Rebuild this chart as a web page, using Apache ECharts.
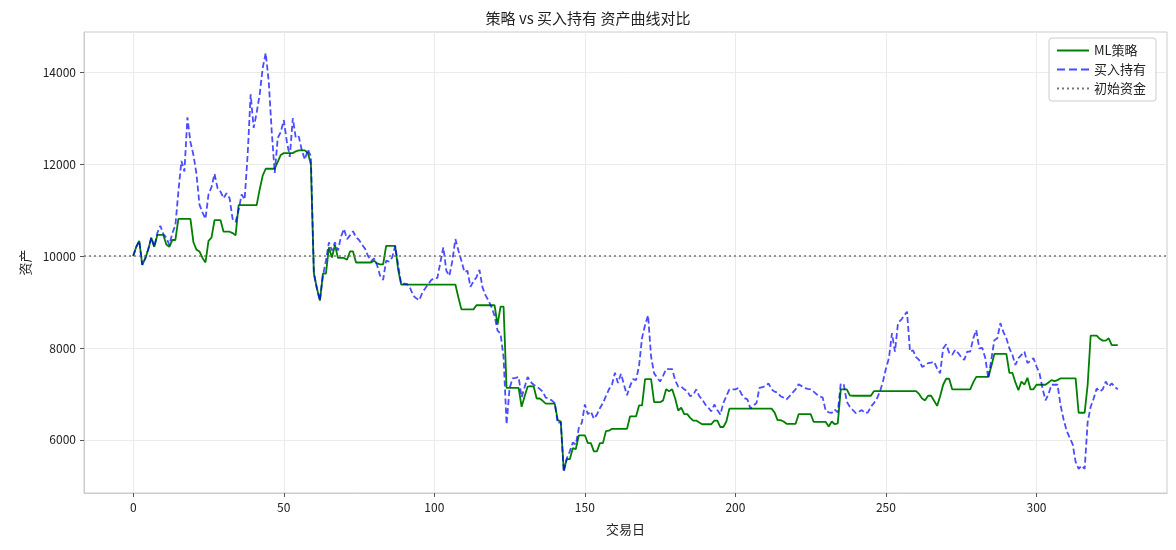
<!DOCTYPE html>
<html lang="zh" style="height: 100%">
<head>
  <meta charset="utf-8">
</head>
<body style="height: 100%; margin: 0; background: #fff">
  <div id="container" style="width: 1176px; height: 550px"></div>
  <script type="text/javascript" src="https://fastly.jsdelivr.net/npm/echarts@6/dist/echarts.min.js"></script>
  <script type="text/javascript">
var xTicks = [0, 50, 100, 150, 200, 250, 300];
var yTicks = [6000, 8000, 10000, 12000, 14000];
var initialCapital = 10000;

// ML策略
var strategy = [
  10000,10200,10330,9810,9950,10150,10400,10200,10460,10460,
  10460,10250,10200,10350,10350,10810,10810,10810,10810,10810,
  10300,10140,10100,9960,9860,10330,10400,10780,10780,10780,
  10530,10530,10530,10500,10450,11110,11110,11110,11110,11110,
  11110,11110,11450,11750,11900,11900,11900,11900,12050,12200,
  12240,12240,12240,12240,12280,12300,12300,12300,12250,12000,
  9620,9300,9030,9620,9620,10190,9970,10240,9960,9960,
  9960,9920,10100,10100,9860,9860,9860,9860,9860,9860,
  9900,9840,9820,9820,10220,10220,10220,10220,9700,9380,
  9380,9380,9380,9380,9380,9380,9380,9380,9380,9380,
  9380,9380,9380,9380,9380,9380,9380,9380,9100,8840,
  8840,8840,8840,8840,8930,8930,8930,8930,8930,8930,
  8930,8510,8900,8900,7130,7130,7130,7130,7130,6720,
  6950,7160,7170,7160,6900,6900,6850,6790,6790,6790,
  6790,6430,6400,5340,5580,5580,5820,5800,6100,6100,
  6100,5930,5930,5750,5750,5930,5930,6190,6200,6240,
  6240,6240,6240,6240,6240,6510,6510,6510,6750,6750,
  7320,7320,7320,6820,6820,6820,6860,7100,7060,7100,
  6900,6640,6700,6560,6560,6480,6420,6420,6380,6340,
  6340,6340,6340,6420,6420,6280,6280,6400,6680,6680,
  6680,6680,6680,6680,6680,6680,6680,6680,6680,6680,
  6680,6680,6680,6600,6430,6430,6400,6350,6350,6350,
  6350,6560,6560,6560,6560,6560,6390,6390,6390,6390,
  6390,6290,6400,6340,6360,7100,7100,7100,6970,6960,
  6960,6960,6960,6960,6960,6960,7060,7060,7060,7060,
  7060,7060,7060,7060,7060,7060,7060,7060,7060,7060,
  7060,7000,6900,6860,6960,6960,6850,6740,6950,7200,
  7330,7330,7100,7100,7100,7100,7100,7100,7100,7250,
  7370,7370,7370,7370,7370,7600,7870,7870,7870,7870,
  7870,7460,7460,7250,7080,7270,7200,7350,7100,7100,
  7200,7200,7200,7200,7250,7300,7280,7300,7340,7340,
  7340,7340,7340,7340,6590,6590,6590,7200,8270,8270,
  8270,8200,8160,8160,8210,8060,8060,8060
];

// 买入持有
var buyHold = [
  10000,10200,10330,9810,9950,10150,10400,10200,10500,10660,
  10480,10400,10240,10500,10670,11400,12070,11840,13020,12480,
  12200,11790,11120,10950,10810,11340,11500,11790,11480,11400,
  11260,11370,11260,10810,10740,11000,11340,11230,12200,13520,
  12790,13120,13520,14090,14420,13800,12710,11810,12570,12700,
  12960,12500,12160,13000,12570,12600,12300,12100,12320,12170,
  9620,9300,9030,9570,9900,10300,10120,10300,10120,10420,
  10590,10370,10450,10540,10410,10350,10250,10160,10000,9890,
  9950,9800,9570,9480,9900,9880,9970,10220,9800,9390,
  9400,9390,9300,9140,9080,9040,9200,9300,9390,9480,
  9520,9520,9860,10190,9680,9570,9900,10370,10120,9900,
  9650,9680,9330,9450,9540,9700,9320,9150,9030,8890,
  8700,8380,8310,7800,6340,7120,7340,7350,7370,6930,
  7150,7370,7260,7200,7160,7110,7050,6920,6900,6860,
  6800,6360,6390,5300,5600,5750,5940,5900,6260,6370,
  6770,6560,6620,6460,6550,6690,6800,6950,7100,7200,
  7460,7240,7440,7200,6970,7170,7320,7300,7610,8220,
  8500,8710,7810,7450,7350,7270,7400,7540,7540,7540,
  7300,7160,7160,7100,7060,6950,6980,7100,6950,6880,
  6770,6700,6620,6770,6650,6550,6800,6950,7100,7100,
  7100,7130,7000,6910,6880,6680,6750,6800,7130,7150,
  7170,7230,7100,7050,7030,6950,6920,6880,6950,7030,
  7100,7210,7170,7130,7110,7100,7050,6990,6950,6920,
  6630,6600,6590,6660,6600,7230,7200,6830,6720,6650,
  6580,6610,6650,6580,6600,6720,6800,6900,7050,7270,
  7550,7780,8320,7920,8540,8610,8700,8790,7920,7950,
  7800,7740,7590,7620,7670,7680,7700,7550,7450,7990,
  8080,7900,7850,7960,7890,7800,7740,7920,7920,8210,
  8390,7990,8000,7780,7340,7750,8170,8210,8540,8350,
  8210,7990,7850,7630,7780,7850,7920,7670,7720,7780,
  7600,7450,7120,6860,7000,7200,7200,7200,6750,6450,
  6200,6050,5910,5520,5370,5440,5370,6390,6720,6900,
  7120,7050,7100,7270,7160,7230,7150,7100
];

var dom = document.getElementById('container');
var myChart = echarts.init(dom, null, { renderer: 'canvas' });
var font = '"Noto Sans CJK SC", "DejaVu Sans", sans-serif';

function pairs(arr) {
  return arr.map(function (v, i) { return [i, v]; });
}

var option = {
  animation: false,
  textStyle: { fontFamily: font },
  title: {
    text: '策略 vs 买入持有 资产曲线对比',
    left: 'center',
    top: 6,
    textStyle: { fontSize: 15, fontWeight: 'normal', color: '#222', fontFamily: font }
  },
  legend: {
    right: 20,
    top: 38,
    orient: 'vertical',
    itemGap: 6,
    itemWidth: 32,
    itemHeight: 10,
    padding: [6, 10, 6, 8],
    borderColor: '#ccc',
    borderWidth: 1,
    borderRadius: 3,
    backgroundColor: 'rgba(255,255,255,0.8)',
    textStyle: { fontSize: 13, color: '#222', fontFamily: font },
    data: [
      { name: 'ML策略', icon: 'path://M0,4L32,4L32,6L0,6Z' },
      { name: '买入持有', icon: 'path://M0,4L8,4L8,6L0,6ZM12,4L20,4L20,6L12,6ZM24,4L32,4L32,6L24,6Z' },
      { name: '初始资金', icon: 'path://M0,4L2,4L2,6L0,6ZM5,4L7,4L7,6L5,6ZM10,4L12,4L12,6L10,6ZM15,4L17,4L17,6L15,6ZM20,4L22,4L22,6L20,6ZM25,4L27,4L27,6L25,6ZM30,4L32,4L32,6L30,6Z' }
    ]
  },
  grid: { left: 84, right: 9, top: 32, bottom: 57, show: true, borderColor: '#ccc', borderWidth: 1 },
  xAxis: {
    type: 'value',
    min: -16.35,
    max: 343.35,
    name: '交易日',
    nameLocation: 'middle',
    nameGap: 30,
    nameTextStyle: { fontSize: 13, color: '#222' },
    axisLine: { onZero: false, lineStyle: { color: '#ccc' } },
    axisTick: { customValues: xTicks, length: 4, lineStyle: { color: '#555' } },
    axisLabel: { customValues: xTicks, fontSize: 12, color: '#222' },
    splitLine: { show: true, lineStyle: { color: '#ebebeb' } }
  },
  yAxis: {
    type: 'value',
    min: 4844,
    max: 14876,
    name: '资产',
    nameLocation: 'middle',
    nameGap: 52,
    nameTextStyle: { fontSize: 13, color: '#222' },
    axisLine: { show: true, onZero: false, lineStyle: { color: '#ccc' } },
    axisTick: { show: true, customValues: yTicks, length: 4, lineStyle: { color: '#555' } },
    axisLabel: { customValues: yTicks, fontSize: 12, color: '#222', formatter: function (v) { return String(v); } },
    splitLine: { show: true, lineStyle: { color: '#ebebeb' } }
  },
  series: [
    {
      name: 'ML策略',
      type: 'line',
      data: pairs(strategy),
      showSymbol: false,
      color: '#008000',
      lineStyle: { width: 1.8, color: '#008000' },
      z: 3
    },
    {
      name: '买入持有',
      type: 'line',
      data: pairs(buyHold),
      showSymbol: false,
      color: 'rgba(0,0,255,0.7)',
      lineStyle: { width: 1.8, type: [6, 3], color: 'rgba(0,0,255,0.7)' },
      z: 4
    },
    {
      name: '初始资金',
      type: 'line',
      data: [],
      color: '#777',
      lineStyle: { color: '#777', type: 'dotted' },
      markLine: {
        silent: true,
        symbol: 'none',
        label: { show: false },
        lineStyle: { color: '#777', type: [2, 3], width: 1.6 },
        data: [{ yAxis: initialCapital }]
      }
    }
  ]
};

myChart.setOption(option);
window.addEventListener('resize', myChart.resize);
  </script>
</body>
</html>
